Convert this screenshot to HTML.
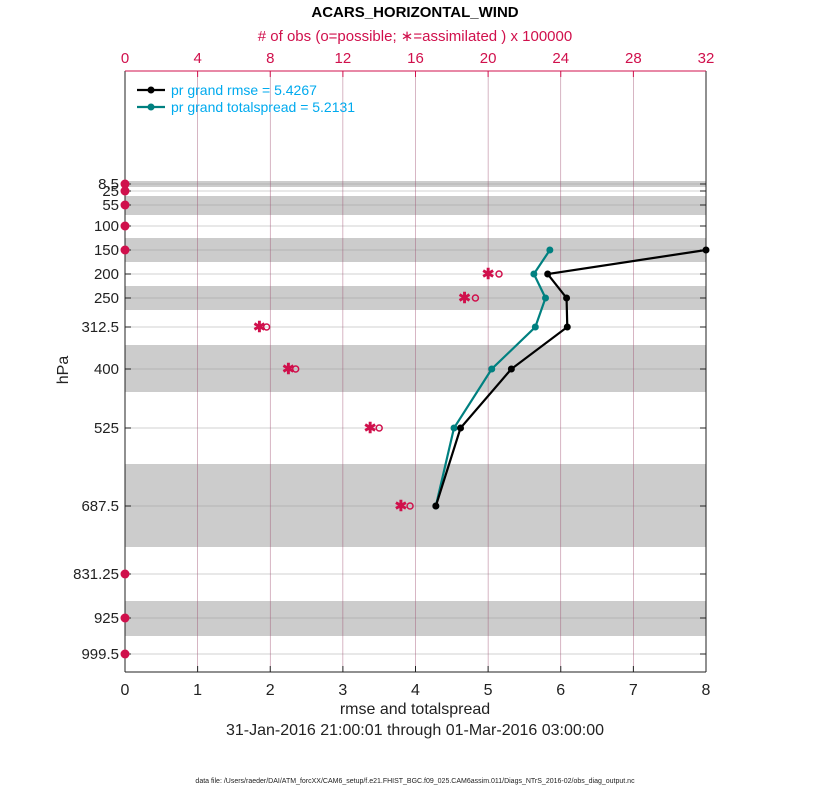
<!DOCTYPE html>
<html><head><meta charset="utf-8"><style>
body{margin:0;background:#fff;width:830px;height:800px;overflow:hidden}
svg text{font-family:"Liberation Sans",sans-serif}
</style></head><body>
<svg width="830" height="800">
<g id="g"></g>
</svg>
<script>
const levels=[8.5,25,55,100,150,200,250,312.5,400,525,687.5,831.25,925,999.5];
const levelY=[184,191,205,226,250,274,298,327,369,428,506,574,618,654];
const bands=[[181,187],[196,215],[238,262],[286,310],[345,392],[464,547],[601,636]];
const rmseLevels=[150,200,250,312.5,400,525,687.5];
const rmse=[8.0,5.82,6.08,6.09,5.32,4.62,4.28];
const spread=[5.85,5.63,5.79,5.65,5.05,4.53,4.28];
const obsLevels=[200,250,312.5,400,525,687.5];
const obsAssim=[20.0,18.7,7.4,9.0,13.5,15.2];
const obsPoss=[20.6,19.3,7.8,9.4,14.0,15.7];
const zeroObsLevels=[8.5,25,55,100,150,831.25,925,999.5];
const xTicks=[0,1,2,3,4,5,6,7,8];
const topTicks=[0,4,8,12,16,20,24,28,32];

const L=125,R=706,T=71,B=672;
const xs=v=>L+(R-L)*v/8;
const xt=v=>L+(R-L)*v/32;
const ys=p=>levelY[levels.indexOf(p)];
const g=document.getElementById('g');
const NS='http://www.w3.org/2000/svg';
function el(t,a,txt){const e=document.createElementNS(NS,t);for(const k in a)e.setAttribute(k,a[k]);if(txt!=null)e.textContent=txt;g.appendChild(e);return e;}

bands.forEach(b=>{const e=el('rect',{x:L,y:b[0],width:R-L,height:b[1]-b[0],fill:'#cccccc'});

});
levels.forEach((p,i)=>{const e=el('line',{x1:L,x2:R,y1:ys(p),y2:ys(p),stroke:'#999',"stroke-opacity":0.45,"stroke-width":1});


el('line',{x1:L,x2:L+6,y1:ys(p),y2:ys(p),stroke:'#222'});
el('line',{x1:R-6,x2:R,y1:ys(p),y2:ys(p),stroke:'#222'});
const t=el('text',{x:L-6,y:ys(p)+5,"text-anchor":"end","font-size":15,fill:'#222'},String(p));

});
topTicks.forEach((v,i)=>{const x=xt(v);
if(i>0&&i<topTicks.length-1){const e=el('line',{x1:x,x2:x,y1:T,y2:B,stroke:'#a05070',"stroke-width":0.6,"stroke-opacity":0.7});

}
el('line',{x1:x,x2:x,y1:T,y2:T+6,stroke:'#d0104c'});
const t=el('text',{x:x,y:T-8,"text-anchor":"middle","font-size":15,fill:'#d0104c'},String(v));

});
xTicks.forEach(v=>{const x=xs(v);
el('line',{x1:x,x2:x,y1:B-6,y2:B,stroke:'#222'});
const t=el('text',{x:x,y:B+23,"text-anchor":"middle","font-size":16,fill:'#222'},String(v));

});
el('line',{x1:L,x2:R,y1:B,y2:B,stroke:'#222'});
el('line',{x1:R,x2:R,y1:T,y2:B,stroke:'#222'});
el('line',{x1:L,x2:L,y1:T,y2:B,stroke:'#222'});
el('line',{x1:L,x2:R,y1:T,y2:T,stroke:'#d0104c'});

function series(vals,color,name){
const pts=vals.map((v,i)=>xs(v)+','+ys(rmseLevels[i])).join(' ');
const pl=el('polyline',{points:pts,fill:'none',stroke:color,"stroke-width":2.2});


vals.forEach((v,i)=>{const c=el('circle',{cx:xs(v),cy:ys(rmseLevels[i]),r:3.5,fill:color});

});}
series(spread,'#008080','spread');
series(rmse,'#000','rmse');

function star(x,y){const e=el('text',{x:x,y:y+5,"text-anchor":"middle","font-size":15,"font-weight":"bold",fill:'#d0104c'},'✱');

}
obsLevels.forEach((p,i)=>{star(xt(obsAssim[i]),ys(p));
const c=el('circle',{cx:xt(obsPoss[i]),cy:ys(p),r:3,fill:'none',stroke:'#d0104c',"stroke-width":1.5});

});
zeroObsLevels.forEach(p=>{const c=el('circle',{cx:L,cy:ys(p),r:4.5,fill:'#d0104c'});

});
</script>
<svg width="830" height="800" style="position:absolute;left:0;top:0">
<text x="415" y="17" text-anchor="middle" font-size="15" font-weight="bold" fill="#000">ACARS_HORIZONTAL_WIND</text>
<text x="415" y="41" text-anchor="middle" font-size="15" fill="#d0104c"># of obs (o=possible; ∗=assimilated ) x 100000</text>
<g>
<line x1="137" x2="165" y1="90" y2="90" stroke="#000" stroke-width="2.2"/><circle cx="151" cy="90" r="3.5" fill="#000"/>
<text x="171" y="95" font-size="14" fill="#00aaee">pr grand rmse = 5.4267</text>
<line x1="137" x2="165" y1="107" y2="107" stroke="#008080" stroke-width="2.2"/><circle cx="151" cy="107" r="3.5" fill="#008080"/>
<text x="171" y="112" font-size="14" fill="#00aaee">pr grand totalspread = 5.2131</text>
</g>
<text x="68" y="370" text-anchor="middle" font-size="16" fill="#222" transform="rotate(-90 68 370)">hPa</text>
<text x="415" y="714" text-anchor="middle" font-size="16" fill="#222">rmse and totalspread</text>
<text x="415" y="735" text-anchor="middle" font-size="16" fill="#222">31-Jan-2016 21:00:01 through 01-Mar-2016 03:00:00</text>
<text x="415" y="783" text-anchor="middle" font-size="7" fill="#222">data file: /Users/raeder/DAI/ATM_forcXX/CAM6_setup/f.e21.FHIST_BGC.f09_025.CAM6assim.011/Diags_NTrS_2016-02/obs_diag_output.nc</text>
</svg>
</body></html>
